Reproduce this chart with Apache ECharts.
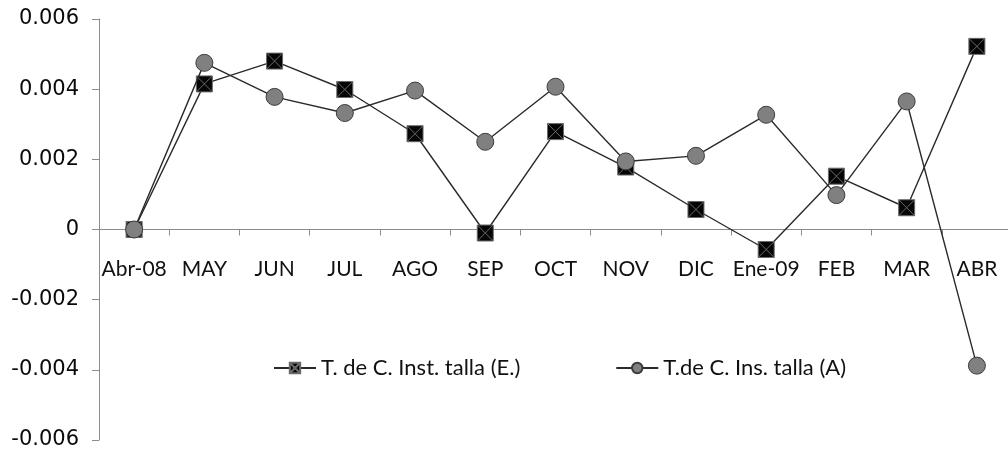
<!DOCTYPE html>
<html>
<head>
<meta charset="utf-8">
<script src="https://cdn.jsdelivr.net/npm/echarts@6/dist/echarts.min.js"></script>
<style>
  html, body { margin: 0; padding: 0; background: #fff; }
  #chart { width: 1008px; height: 453px; }
</style>
</head>
<body>
<div id="chart"></div>
<script>
// Monthly categories, April 2008 to April 2009
const categories = ['Abr-08', 'MAY', 'JUN', 'JUL', 'AGO', 'SEP', 'OCT', 'NOV', 'DIC', 'Ene-09', 'FEB', 'MAR', 'ABR'];

// T. de C. Inst. talla (E.)
const seriesE = [0, 0.00415, 0.0048, 0.00399, 0.00273, -0.0001, 0.00279, 0.00178, 0.00057, -0.00057, 0.00152, 0.00062, 0.00522];

// T.de C. Ins. talla (A)
const seriesA = [0, 0.00475, 0.00378, 0.00332, 0.00396, 0.0025, 0.00407, 0.00194, 0.0021, 0.00327, 0.00098, 0.00365, -0.00388];

const seriesNames = ['T. de C. Inst. talla (E.)', 'T.de C. Ins. talla (A)'];
const yTicks = { min: -0.006, max: 0.006, interval: 0.002 };

// plot area
const plot = { left: 99, top: 19, width: 913, height: 421 };

// the category axis sits on the zero line: shift it up from the bottom edge
const zeroOffset = -plot.height * (0 - yTicks.min) / (yTicks.max - yTicks.min);

// square marker with a cross through it
const crossSquare = 'path://M0,0H10V10H0Z M0,0L10,10 M10,0L0,10';

const chart = echarts.init(document.getElementById('chart'), null, { renderer: 'canvas' });

chart.setOption({
  animation: false,
  backgroundColor: '#ffffff',
  grid: Object.assign({ containLabel: false, outerBoundsMode: 'none' }, plot),
  legend: {
    left: 268,
    top: 352,
    itemGap: 95,
    itemWidth: 42,
    itemHeight: 13,
    textStyle: { fontFamily: 'Lato', fontSize: 22, color: '#111' },
    data: seriesNames
  },
  xAxis: {
    type: 'category',
    data: categories,
    boundaryGap: true,
    offset: zeroOffset,
    axisLine: { onZero: false, lineStyle: { color: '#8c8c8c', width: 1 } },
    axisTick: { show: true, length: 6, inside: false, lineStyle: { color: '#8c8c8c' } },
    axisLabel: { interval: 0, margin: 29, fontFamily: 'Lato', fontSize: 21, color: '#111' },
    splitLine: { show: false }
  },
  yAxis: {
    type: 'value',
    min: yTicks.min,
    max: yTicks.max,
    interval: yTicks.interval,
    axisLine: { show: true, lineStyle: { color: '#8c8c8c', width: 1 } },
    axisTick: { show: true, length: 7, lineStyle: { color: '#8c8c8c' } },
    axisLabel: {
      margin: 20,
      fontFamily: 'DejaVu Sans',
      fontSize: 21,
      color: '#0a0a0a',
      formatter: v => (Math.abs(v) < 1e-12 ? '0' : v.toFixed(3))
    },
    splitLine: { show: false }
  },
  series: [
    {
      name: seriesNames[0],
      type: 'line',
      data: seriesE,
      symbol: crossSquare,
      symbolSize: 16,
      z: 2,
      lineStyle: { color: '#2a2a2a', width: 1.4 },
      itemStyle: { color: '#050505', borderColor: '#6a6a6a', borderWidth: 1 }
    },
    {
      name: seriesNames[1],
      type: 'line',
      data: seriesA,
      symbol: 'circle',
      symbolSize: 17,
      z: 3,
      lineStyle: { color: '#2a2a2a', width: 1.4 },
      itemStyle: { color: '#808080', borderColor: '#3c3c3c', borderWidth: 1 }
    }
  ]
});
</script>
</body>
</html>
